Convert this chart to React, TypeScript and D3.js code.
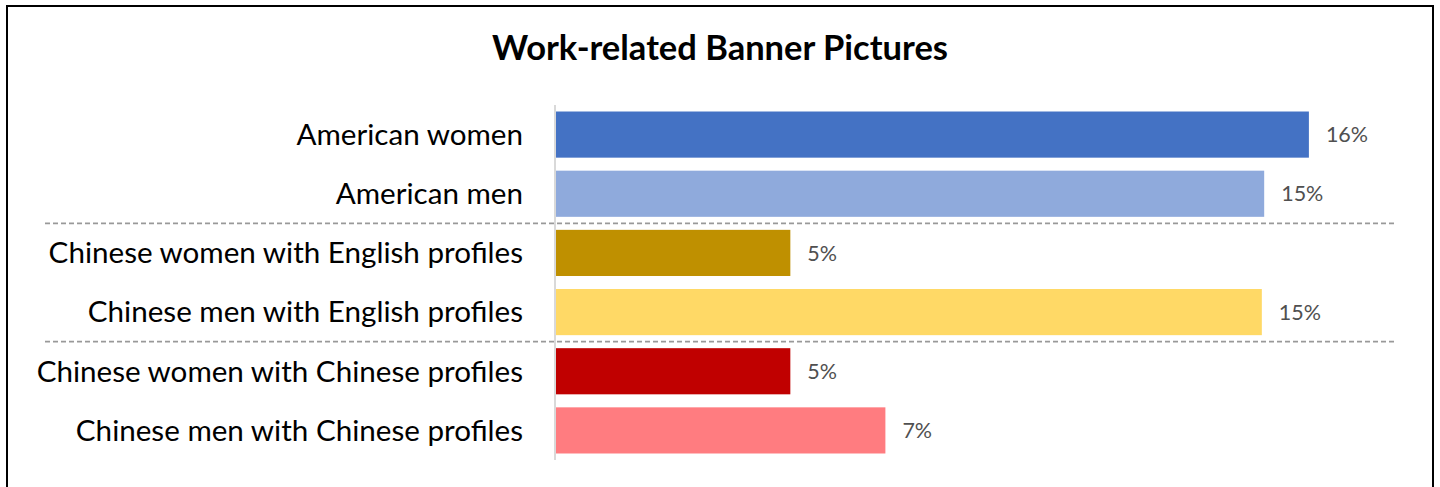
import React from "react";
import * as d3 from "d3";

const categories = [
  "American women",
  "American men",
  "Chinese women with English profiles",
  "Chinese men with English profiles",
  "Chinese women with Chinese profiles",
  "Chinese men with Chinese profiles",
];
const values = [16.0, 15.05, 4.98, 15.0, 4.98, 7.0];
const valueLabels = ["16%", "15%", "5%", "15%", "5%", "7%"];
const colors = ["#4472C4", "#8FAADC", "#BF9000", "#FFD966", "#C00000", "#FF7C80"];
const separatorsAfter = [1, 3];
const title = "Work-related Banner Pictures";

const W = 1440;
const H = 487;

export default function App() {
  const x = d3.scaleLinear().domain([0, 18]).range([556, 1403]);
  const y = d3
    .scaleBand<string>()
    .domain(categories)
    .range([105, 460])
    .paddingInner(0.22)
    .paddingOuter(0.11);
  const bw = y.bandwidth();
  const font = "Lato, 'Open Sans', sans-serif";

  return (
    <svg
      width={W}
      height={H}
      style={{ position: "absolute", left: 0, top: 0, display: "block", background: "#fff" }}
    >
      <rect x={0} y={0} width={W} height={H} fill="#fff" />
      <rect x={7} y={6} width={1426} height={520} fill="none" stroke="#000" strokeWidth={2} />
      <text
        x={720}
        y={60}
        textAnchor="middle"
        fontFamily={font}
        fontWeight="bold"
        fontSize={34.5}
        fill="#000"
      >
        {title}
      </text>
      {separatorsAfter.map((i) => {
        const yy = ((y(categories[i]) as number) + bw + (y(categories[i + 1]) as number)) / 2;
        return (
          <line
            key={"sep" + i}
            x1={45}
            x2={1395}
            y1={yy}
            y2={yy}
            stroke="#999999"
            strokeWidth={1.6}
            strokeDasharray="5,3"
          />
        );
      })}
      {categories.map((c, i) => {
        const yy = y(c) as number;
        return (
          <g key={c}>
            <rect x={x(0)} y={yy} width={x(values[i]) - x(0)} height={bw} fill={colors[i]} />
            <text
              x={523}
              y={yy + bw / 2}
              dy="0.35em"
              textAnchor="end"
              fontFamily={font}
              fontSize={29.6}
              fill="#000"
            >
              {c}
            </text>
            <text
              x={x(values[i]) + 17}
              y={yy + bw / 2}
              dy="0.36em"
              fontFamily={font}
              fontSize={21.5}
              fill="#505050"
            >
              {valueLabels[i]}
            </text>
          </g>
        );
      })}
      <line x1={555} x2={555} y1={105} y2={460} stroke="#d9d9d9" strokeWidth={2} />
    </svg>
  );
}
